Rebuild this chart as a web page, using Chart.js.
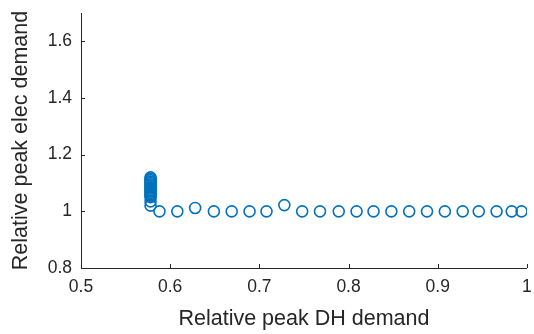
<!DOCTYPE html>
<html>
<head>
<meta charset="utf-8">
<script src="https://cdn.jsdelivr.net/npm/chart.js@4/dist/chart.umd.min.js"></script>
<style>
  html, body { margin: 0; padding: 0; background: #fff; }
  #wrap { width: 534px; height: 334px; }
</style>
</head>
<body>
<div id="wrap"><canvas id="c" width="534" height="334"></canvas></div>
<script>
// data
const peakDH = [
  0.578, 0.578, 0.578, 0.578, 0.578, 0.578, 0.578, 0.578, 0.578,
  0.578, 0.578, 0.578, 0.578, 0.578, 0.578, 0.578, 0.578,
  0.588, 0.608, 0.628, 0.649, 0.669, 0.689, 0.708, 0.728, 0.748,
  0.768, 0.789, 0.809, 0.828, 0.848, 0.868, 0.888, 0.908, 0.928,
  0.946, 0.966, 0.983, 0.994
];
const peakElec = [
  1.02, 1.035, 1.05, 1.055, 1.06, 1.065, 1.07, 1.075, 1.08,
  1.085, 1.09, 1.095, 1.10, 1.105, 1.11, 1.115, 1.12,
  1.0, 1.0, 1.012, 1.0, 1.0, 1.0, 1.0, 1.022, 1.0,
  1.0, 1.0, 1.0, 1.0, 1.0, 1.0, 1.0, 1.0, 1.0,
  1.0, 1.0, 1.0, 1.0
];
const xTicks = [0.5, 0.6, 0.7, 0.8, 0.9, 1];
const yTicks = [0.8, 1, 1.2, 1.4, 1.6];

const axisColor = '#262626';
const fontFam = '"Liberation Sans", Arial, sans-serif';

// small inward tick marks, like MATLAB
const innerTicks = {
  id: 'innerTicks',
  afterDraw(chart) {
    const ctx = chart.ctx, a = chart.chartArea;
    const xs = chart.scales.x, ys = chart.scales.y;
    ctx.save();
    ctx.strokeStyle = axisColor;
    ctx.lineWidth = 1;
    ctx.beginPath();
    xs.ticks.forEach(t => {
      const px = Math.round(xs.getPixelForValue(t.value)) + 0.5;
      ctx.moveTo(px, a.bottom);
      ctx.lineTo(px, a.bottom - 4);
    });
    ys.ticks.forEach(t => {
      const py = Math.round(ys.getPixelForValue(t.value)) + 0.5;
      ctx.moveTo(a.left, py);
      ctx.lineTo(a.left + 4, py);
    });
    ctx.stroke();
    ctx.restore();
  }
};

new Chart(document.getElementById('c'), {
  type: 'scatter',
  data: {
    datasets: [{
      data: peakDH.map((x, i) => ({ x: x, y: peakElec[i] })),
      pointStyle: 'circle',
      pointRadius: 5.5,
      pointBorderWidth: 1.6,
      pointBorderColor: '#0072BD',
      pointBackgroundColor: 'rgba(0,0,0,0)',
      showLine: false
    }]
  },
  options: {
    responsive: false,
    animation: false,
    layout: { padding: { left: 6, right: 6, top: 13, bottom: 1 } },
    plugins: { legend: { display: false }, tooltip: { enabled: false } },
    scales: {
      x: {
        type: 'linear', min: 0.5, max: 1,
        afterBuildTicks: s => { s.ticks = xTicks.map(v => ({ value: v })); },
        afterFit: s => { s.height = 334 - 268 - 1; s.paddingLeft = 0; s.paddingRight = 0; },
        grid: { display: true, drawOnChartArea: false, drawTicks: false },
        border: { display: true, color: axisColor, width: 1 },
        ticks: { color: axisColor, padding: 9, font: { family: fontFam, size: 17.5 },
                 callback: v => String(Math.round(v * 10) / 10) },
        title: { display: true, text: 'Relative peak DH demand', color: axisColor,
                 font: { family: fontFam, size: 21.5 }, padding: { top: 2, bottom: 1 } }
      },
      y: {
        type: 'linear', min: 0.8, max: 1.7,
        afterBuildTicks: s => { s.ticks = yTicks.map(v => ({ value: v })); },
        afterFit: s => { s.width = 81 - 6; s.paddingTop = 0; s.paddingBottom = 0; },
        grid: { display: true, drawOnChartArea: false, drawTicks: false },
        border: { display: true, color: axisColor, width: 1 },
        ticks: { color: axisColor, padding: 9, font: { family: fontFam, size: 17.5 },
                 callback: v => String(Math.round(v * 10) / 10) },
        title: { display: true, text: 'Relative peak elec demand', color: axisColor,
                 font: { family: fontFam, size: 21.5 }, padding: { top: 2, bottom: 2 } }
      }
    }
  },
  plugins: [innerTicks]
});
</script>
</body>
</html>
